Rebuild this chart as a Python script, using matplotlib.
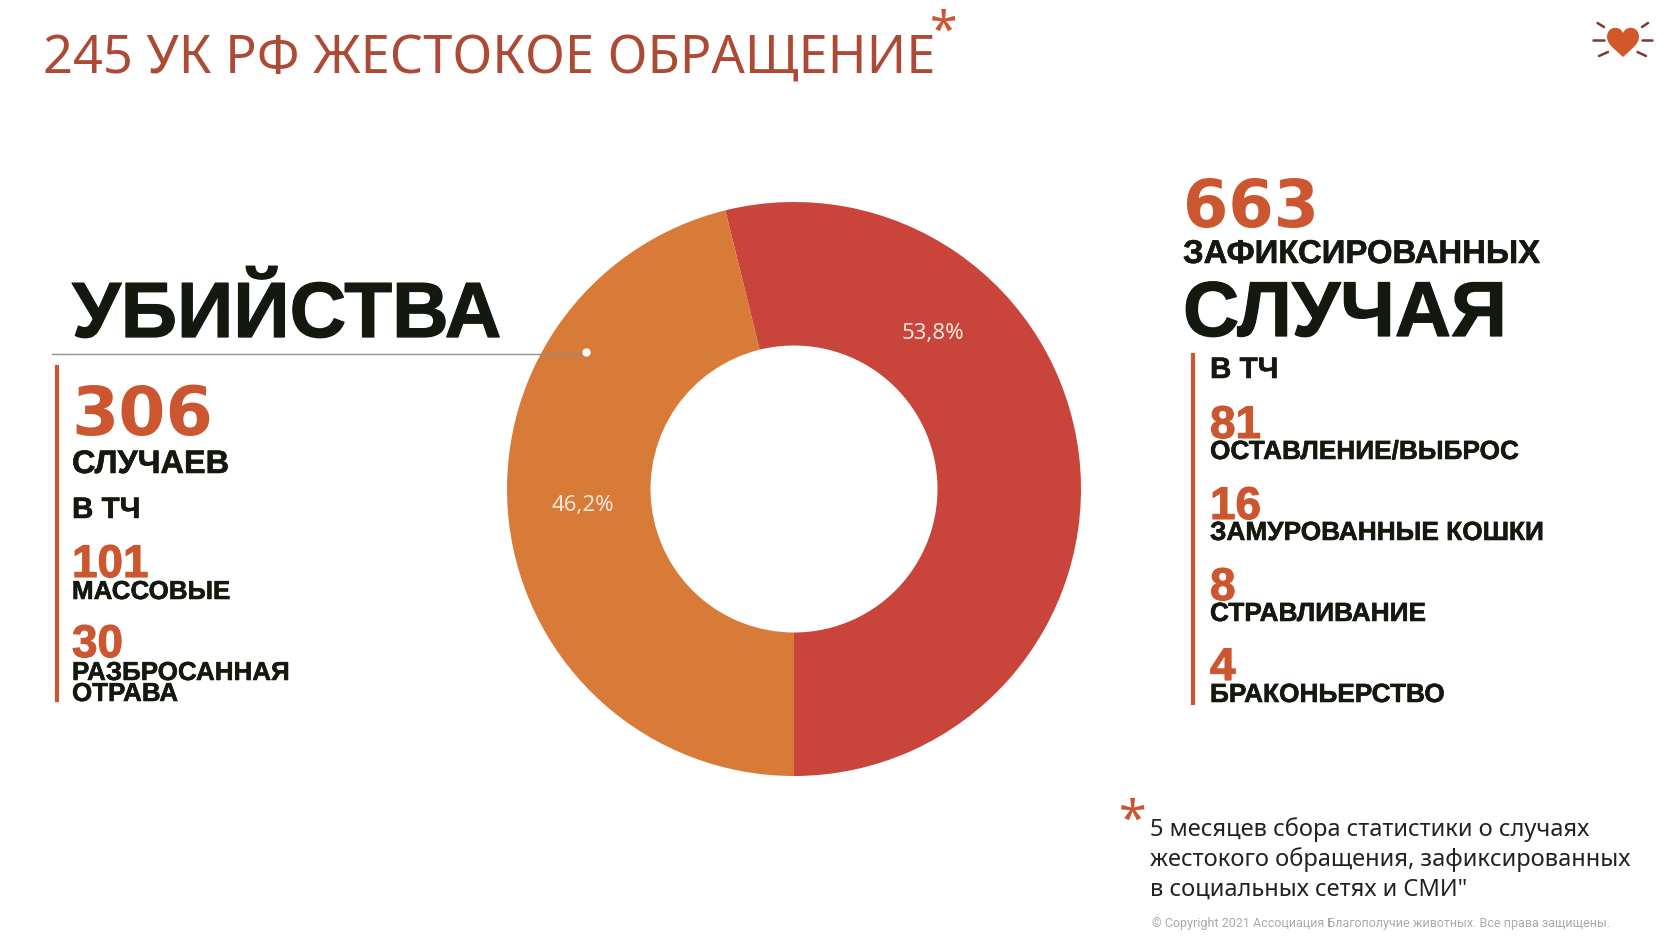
import matplotlib
matplotlib.use('Agg')
import matplotlib.pyplot as plt
import matplotlib.patheffects as pe
from matplotlib.path import Path
from matplotlib.patches import PathPatch

W, H = 1680, 945

title = '245 УК РФ ЖЕСТОКОЕ ОБРАЩЕНИЕ'
slices = ['другие случаи', 'убийства']
slice_values = [357, 306]
slice_colors = ['#c9443a', '#d87a38']

left_head = 'УБИЙСТВА'
left_total = '306'
left_total_label = 'СЛУЧАЕВ'
left_numbers = ['101', '30']
left_labels = ['МАССОВЫЕ', 'РАЗБРОСАННАЯ\nОТРАВА']

right_total = '663'
right_head1 = 'ЗАФИКСИРОВАННЫХ'
right_head2 = 'СЛУЧАЯ'
right_numbers = ['81', '16', '8', '4']
right_labels = ['ОСТАВЛЕНИЕ/ВЫБРОС', 'ЗАМУРОВАННЫЕ КОШКИ', 'СТРАВЛИВАНИЕ', 'БРАКОНЬЕРСТВО']

note = ['5 месяцев сбора статистики о случаях',
        'жестокого обращения, зафиксированных',
        'в социальных сетях и СМИ"']
copyright_text = '© Copyright 2021 Ассоциация Благополучие животных. Все права защищены.'

DARK = '#14190f'
ORANGE = '#cc5630'
FONT = 'Noto Sans'
HEAD = 'Liberation Sans'
NUM = 'DejaVu Sans'

fig = plt.figure(figsize=(W / 100, H / 100), dpi=100, facecolor='white')

# background layer in pixel coords
ax = fig.add_axes([0, 0, 1, 1])
ax.set_xlim(0, W)
ax.set_ylim(H, 0)
ax.axis('off')


def txt(x, y, s, size, color=DARK, weight='normal', family=FONT, stroke=0, **kw):
    kw.setdefault('va', 'baseline')
    kw.setdefault('ha', 'left')
    t = ax.text(x, y, s, fontsize=size, color=color, fontweight=weight,
                family=family, zorder=5, **kw)
    if stroke:
        t.set_path_effects([pe.withStroke(linewidth=stroke, foreground=color)])
    return t


def head(x, y, s, size, stroke=0.4):
    return txt(x, y, s, size, weight='bold', family=HEAD, stroke=stroke)


def big_num(x, y, s, size):
    return txt(x, y, s, size, color=ORANGE, weight='bold', family=NUM)


def small_num(x, y, s):
    return txt(x, y, s, 33, color=ORANGE, weight='bold', family=HEAD, stroke=0.8)


# donut
cx, cy, R = 794, 490, 287
pie_ax = fig.add_axes([(cx - R) / W, 1 - (cy + R) / H, 2 * R / W, 2 * R / H])
start = -90 + 360 * slice_values[0] / sum(slice_values)
pie_ax.pie(slice_values, colors=slice_colors, startangle=start, counterclock=False,
           radius=1, wedgeprops={'width': 0.5})
pie_ax.set_xlim(-1, 1)
pie_ax.set_ylim(-1, 1)
pie_ax.set_zorder(1)

# text layer above the donut
ax.set_zorder(2)
ax.patch.set_alpha(0)

pcts = [f'{v / sum(slice_values) * 100:.1f}'.replace('.', ',') + '%' for v in slice_values]
txt(933, 333, pcts[0], 16, color='#f6e6dc', ha='center', va='center')
txt(583, 505, pcts[1], 16, color='#f6e6dc', ha='center', va='center')

# title
txt(43, 73, title, 37.7, color='#ad4a35')
txt(944, 47, '*', 36, color=ORANGE, ha='center')

# left block
head(72, 338, left_head, 56.4, stroke=0.9)
ax.plot([52, 586], [354.5, 354.5], color='#8f8f8f', lw=1, zorder=3)
ax.plot([586], [353], 'o', color='white', ms=5, zorder=4)
ax.plot([57, 57], [368, 701], color=ORANGE, lw=3, zorder=3)
big_num(71, 435, left_total, 49)
head(72, 474, left_total_label, 23.4)
head(72, 519, 'В ТЧ', 21.3)
small_num(72, 578, left_numbers[0])
head(72, 600, left_labels[0], 18.7)
small_num(72, 658, left_numbers[1])
lab = left_labels[1].split('\n')
head(72, 681, lab[0], 18.7)
head(72, 702, lab[1], 18.7)

# right block
big_num(1183, 227, right_total, 47)
head(1183, 264, right_head1, 23.7)
head(1183, 337, right_head2, 56, stroke=0.9)
ax.plot([1193, 1193], [356, 704], color=ORANGE, lw=3, zorder=3)
head(1210, 379, 'В ТЧ', 21.3)
num_y = [439, 520, 601, 681]
lab_y = [460, 541, 622, 703]
for n, l, y1, y2 in zip(right_numbers, right_labels, num_y, lab_y):
    small_num(1210, y1, n)
    head(1210, y2, l, 18.9)

# footnote
txt(1133, 836, '*', 36, color=ORANGE, ha='center')
for s, y in zip(note, [836, 866, 896]):
    txt(1150, y, s, 17.05, color='#222222')
txt(1152, 927, copyright_text, 9, color='#aaaaaa', family='Roboto')

# logo, heart + rays
rays = [(1593, 41, 1603.5, 41), (1642, 41, 1652, 41), (1597.5, 24, 1604, 28),
        (1648, 24, 1642, 28), (1599, 57, 1608, 53), (1646, 57, 1637.5, 53)]
for x0, y0, x1, y1 in rays:
    ax.plot([x0, x1], [y0, y1], color='#7a3a3a', lw=1.8, solid_capstyle='round')
hx, hy = 1623, 40
verts = [(0, -6), (-3, -14), (-16, -13), (-16, -2), (-16, 6), (-6, 12), (0, 18),
         (6, 12), (16, 6), (16, -2), (16, -13), (3, -14), (0, -6)]
codes = [Path.MOVETO] + [Path.CURVE4] * 12
ax.add_patch(PathPatch(Path([(hx + a, hy + b) for a, b in verts], codes),
                       fc='#d2582c', ec='none'))

fig.savefig('out.png', dpi=100, facecolor='white')
